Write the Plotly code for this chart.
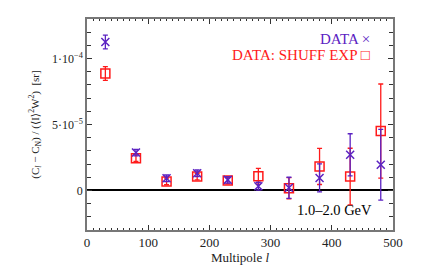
import plotly.graph_objects as go

multipole = [30, 80, 130, 180, 230, 280, 330, 380, 430, 480]
data_vals = [1.125e-4, 2.87e-5, 9.2e-6, 1.3e-5, 8.0e-6, 3.2e-6, 2.0e-6, 9.5e-6, 2.7e-5, 1.95e-5]
data_errs = [5.2e-6, 2.5e-6, 2.5e-6, 2.5e-6, 2.5e-6, 3.0e-6, 8.0e-6, 1.06e-5, 1.6e-5, 2.68e-5]
shuff_vals = [8.87e-5, 2.45e-5, 6.8e-6, 1.05e-5, 7.5e-6, 1.07e-5, 1.7e-6, 1.82e-5, 1.05e-5, 4.5e-5]
shuff_errs = [5.2e-6, 2.5e-6, 2.5e-6, 2.5e-6, 2.5e-6, 6.0e-6, 8.0e-6, 1.37e-5, 2.15e-5, 3.57e-5]
ytick_vals = [0, 5e-5, 1e-4]
ytick_text = ["0", "5·10<sup>−5</sup>", "1·10<sup>−4</sup>"]
yminor_vals = [-2e-5, -1e-5, 1e-5, 2e-5, 3e-5, 4e-5, 6e-5, 7e-5, 8e-5, 9e-5, 1.1e-4, 1.2e-4]

PURPLE = "#5b22c2"
RED = "#ff1a1a"
SERIF = "Liberation Serif, DejaVu Serif, serif"

fig = go.Figure()
fig.add_trace(go.Scatter(
    x=multipole, y=shuff_vals, mode="markers",
    marker=dict(symbol="square-open", size=9, color=RED, line=dict(width=1.5, color=RED)),
    error_y=dict(type="data", array=shuff_errs, color=RED, thickness=1.3, width=2.5),
    showlegend=False))
fig.add_trace(go.Scatter(
    x=multipole, y=data_vals, mode="markers",
    marker=dict(symbol="x-thin-open", size=8, color=PURPLE, line=dict(width=1.5, color=PURPLE)),
    error_y=dict(type="data", array=data_errs, color=PURPLE, thickness=1.3, width=2.5),
    showlegend=False))

fig.add_annotation(x=466, y=1.15e-4, xref="x", yref="y", xanchor="right", yanchor="middle",
                   text="DATA ×", showarrow=False, font=dict(family=SERIF, size=15, color=PURPLE))
fig.add_annotation(x=466, y=1.025e-4, xref="x", yref="y", xanchor="right", yanchor="middle",
                   text="DATA: SHUFF EXP □", showarrow=False, font=dict(family=SERIF, size=15, color=RED))
fig.add_annotation(x=404, y=-1.5e-5, xref="x", yref="y", xanchor="center", yanchor="middle",
                   text="1.0–2.0 GeV", showarrow=False, font=dict(family=SERIF, size=14.5, color="black"))

fig.update_xaxes(
    range=[0, 500], dtick=100, tick0=0,
    showline=True, linecolor="#777777", linewidth=1.5, mirror="allticks",
    ticks="inside", ticklen=5, tickcolor="#333333", tickwidth=1,
    minor=dict(ticks="inside", dtick=10, ticklen=2.5, tickcolor="#333333", tickwidth=1),
    showgrid=False, zeroline=False,
    tickfont=dict(family=SERIF, size=13, color="#222222"),
    title=dict(text="Multipole <i>l</i>", font=dict(family=SERIF, size=13, color="#222222"), standoff=0),
)
fig.update_yaxes(
    range=[-3e-5, 1.3e-4], tickvals=ytick_vals, ticktext=ytick_text,
    showline=True, linecolor="#777777", linewidth=1.5, mirror="allticks",
    ticks="inside", ticklen=5, tickcolor="#333333", tickwidth=1,
    minor=dict(ticks="inside", tickvals=yminor_vals, ticklen=4, tickcolor="#333333", tickwidth=1),
    showgrid=False, zeroline=True, zerolinecolor="black", zerolinewidth=1.8,
    tickfont=dict(family=SERIF, size=12, color="#222222"),
    title=dict(text="(C<sub><i>l</i></sub> − C<sub>N</sub>) / (⟨I⟩<sup>2</sup>W<sup>2</sup>)  [sr]",
               font=dict(family=SERIF, size=11, color="#222222"), standoff=10),
)

fig.update_layout(
    width=428, height=265,
    margin=dict(l=79, r=43, t=9, b=43),
    paper_bgcolor="white", plot_bgcolor="white",
)

fig.write_html("out.html")
